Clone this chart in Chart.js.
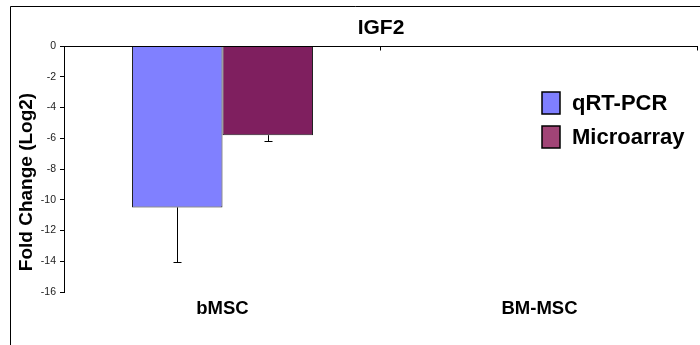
<!DOCTYPE html>
<html>
<head>
<meta charset="utf-8">
<script src="https://cdn.jsdelivr.net/npm/chart.js@4/dist/chart.umd.min.js"></script>
<style>
  html, body { margin: 0; padding: 0; background: #fff; }
  canvas { display: block; }
</style>
</head>
<body>
<canvas id="c" width="700" height="345"></canvas>
<script>
// IGF2 fold change (log2) per cell source
const categories = ['bMSC', 'BM-MSC'];
const seriesNames = ['qRT-PCR', 'Microarray'];
const qrtPcr = [-10.5, null];
const microarray = [-5.8, null];
const qrtPcrErr = [3.55, null];
const microarrayErr = [0.35, null];
const yTicks = { min: -16, max: 0, step: 2 };

const FONT = '"Liberation Sans", Arial, Helvetica, sans-serif';
const barColors = ['#8080FF', '#7F1F5F'];
const legendColors = ['#7F7FFF', '#A14476'];

// Outer frame, title, axis titles, top axis line and legend
const decorations = {
  id: 'decorations',
  afterDatasetsDraw(chart) {
    const { ctx, chartArea: a } = chart;
    const x = chart.scales.x, y = chart.scales.y;
    ctx.save();
    ctx.strokeStyle = '#000';
    ctx.lineWidth = 1;

    // frame (left and top edges)
    ctx.beginPath();
    ctx.moveTo(10.5, 345);
    ctx.lineTo(10.5, 6.5);
    ctx.lineTo(700, 6.5);
    ctx.stroke();

    // category axis at value 0 with boundary ticks
    const y0 = Math.round(y.getPixelForValue(0)) + 0.5;
    ctx.beginPath();
    ctx.moveTo(a.left, y0);
    ctx.lineTo(a.right, y0);
    const half = (x.getPixelForValue(1) - x.getPixelForValue(0)) / 2;
    for (let i = 0; i < categories.length; i++) {
      const bx = Math.round(x.getPixelForValue(i) + half) - 0.5;
      ctx.moveTo(bx, y0);
      ctx.lineTo(bx, y0 + 4);
    }
    ctx.stroke();

    // chart title
    ctx.fillStyle = '#000';
    ctx.font = 'bold 21px ' + FONT;
    ctx.textAlign = 'center';
    ctx.textBaseline = 'alphabetic';
    ctx.fillText('IGF2', (a.left + a.right) / 2, 34);

    // value axis title
    ctx.save();
    ctx.translate(32, 182);
    ctx.rotate(-Math.PI / 2);
    ctx.font = 'bold 19px ' + FONT;
    ctx.textAlign = 'center';
    ctx.fillText('Fold Change (Log2)', 0, 0);
    ctx.restore();

    // legend
    const lx = a.right - 156, ly = 92;
    ctx.font = 'bold 22px ' + FONT;
    ctx.textAlign = 'left';
    ctx.textBaseline = 'middle';
    chart.data.datasets.forEach((ds, i) => {
      const top = ly + i * 34;
      ctx.fillStyle = legendColors[i];
      ctx.fillRect(lx, top, 18, 22);
      ctx.strokeStyle = '#000';
      ctx.lineWidth = 1.5;
      ctx.strokeRect(lx, top, 18, 22);
      ctx.fillStyle = '#000';
      ctx.fillText(ds.label, lx + 30, top + 12);
    });
    ctx.restore();
  }
};

// Downward error bars for each bar
const errorBars = {
  id: 'errorBars',
  afterDatasetsDraw(chart) {
    const { ctx } = chart;
    const y = chart.scales.y;
    ctx.save();
    ctx.strokeStyle = '#000';
    ctx.lineWidth = 1;
    chart.data.datasets.forEach((ds, di) => {
      const meta = chart.getDatasetMeta(di);
      ds.data.forEach((v, i) => {
        const e = ds.errors[i];
        if (v == null || e == null) return;
        const bx = Math.round(meta.data[i].x) + 0.5;
        const y1 = y.getPixelForValue(v);
        const y2 = Math.round(y.getPixelForValue(v - e)) + 0.5;
        ctx.beginPath();
        ctx.moveTo(bx, y1);
        ctx.lineTo(bx, y2);
        ctx.moveTo(bx - 4, y2);
        ctx.lineTo(bx + 4, y2);
        ctx.stroke();
      });
    });
    ctx.restore();
  }
};

new Chart(document.getElementById('c'), {
  type: 'bar',
  data: {
    labels: categories,
    datasets: [
      { label: seriesNames[0], data: qrtPcr, errors: qrtPcrErr,
        backgroundColor: barColors[0], borderColor: '#222', borderWidth: 1 },
      { label: seriesNames[1], data: microarray, errors: microarrayErr,
        backgroundColor: barColors[1], borderColor: '#222', borderWidth: 1 }
    ]
  },
  options: {
    responsive: false,
    animation: false,
    layout: { padding: { top: 46, right: 2, left: 0, bottom: 0 } },
    datasets: { bar: { categoryPercentage: 0.571, barPercentage: 1.0 } },
    plugins: {
      legend: { display: false },
      title: { display: false },
      tooltip: { enabled: false }
    },
    scales: {
      x: {
        position: 'bottom',
        grid: { display: false, drawTicks: false },
        border: { display: false },
        ticks: { color: '#000', font: { family: FONT, size: 18.5, weight: 'bold' }, padding: 6 },
        afterFit(s) { s.height = 53; }
      },
      y: {
        min: yTicks.min,
        max: yTicks.max,
        grid: { drawOnChartArea: false, drawTicks: true, tickLength: 4, color: '#000' },
        border: { display: true, color: '#000', width: 1 },
        ticks: { stepSize: yTicks.step, color: '#222', font: { family: FONT, size: 10.5 }, padding: 4 },
        afterFit(s) { s.width = 64; }
      }
    }
  },
  plugins: [errorBars, decorations]
});
</script>
</body>
</html>
